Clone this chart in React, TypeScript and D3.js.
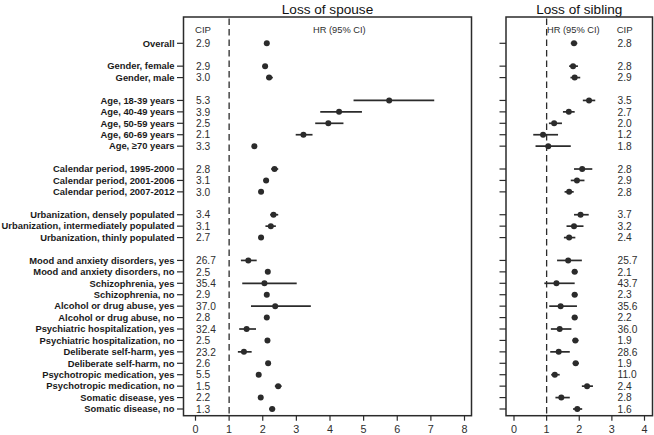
import React from "react";
import * as d3 from "d3";

const labels = [
  "Overall",
  "Gender, female", "Gender, male",
  "Age, 18-39 years", "Age, 40-49 years", "Age, 50-59 years", "Age, 60-69 years", "Age, ≥70 years",
  "Calendar period, 1995-2000", "Calendar period, 2001-2006", "Calendar period, 2007-2012",
  "Urbanization, densely populated", "Urbanization, intermediately populated", "Urbanization, thinly populated",
  "Mood and anxiety disorders, yes", "Mood and anxiety disorders, no",
  "Schizophrenia, yes", "Schizophrenia, no",
  "Alcohol or drug abuse, yes", "Alcohol or drug abuse, no",
  "Psychiatric hospitalization, yes", "Psychiatric hospitalization, no",
  "Deliberate self-harm, yes", "Deliberate self-harm, no",
  "Psychotropic medication, yes", "Psychotropic medication, no",
  "Somatic disease, yes", "Somatic disease, no",
];
const rowIndex = [0, 2, 3, 5, 6, 7, 8, 9, 11, 12, 13, 15, 16, 17, 19, 20, 21, 22, 23, 24, 25, 26, 27, 28, 29, 30, 31, 32];

const spouseCIP = ["2.9", "2.9", "3.0", "5.3", "3.9", "2.5", "2.1", "3.3", "2.8", "3.1", "3.0", "3.4", "3.1", "2.7", "26.7", "2.5", "35.4", "2.9", "37.0", "2.8", "32.4", "2.5", "23.2", "2.6", "5.5", "1.5", "2.2", "1.3"];
const siblingCIP = ["2.8", "2.8", "2.9", "3.5", "2.7", "2.0", "1.2", "1.8", "2.8", "2.9", "2.8", "3.7", "3.2", "2.4", "25.7", "2.1", "43.7", "2.3", "35.6", "2.2", "36.0", "1.9", "28.6", "1.9", "11.0", "2.4", "2.8", "1.6"];

const spouseHR = [2.12, 2.07, 2.19, 5.76, 4.27, 3.95, 3.21, 1.75, 2.35, 2.10, 1.95, 2.32, 2.24, 1.95, 1.57, 2.15, 2.05, 2.12, 2.37, 2.12, 1.52, 2.14, 1.44, 2.16, 1.88, 2.46, 1.94, 2.28];
const spouseLo = [2.06, 2.00, 2.10, 4.70, 3.71, 3.56, 2.98, 1.70, 2.25, 2.02, 1.88, 2.22, 2.08, 1.88, 1.35, 2.09, 1.39, 2.06, 1.65, 2.05, 1.30, 2.08, 1.26, 2.09, 1.82, 2.36, 1.88, 2.19];
const spouseHi = [2.18, 2.14, 2.30, 7.10, 4.95, 4.40, 3.48, 1.80, 2.46, 2.18, 2.02, 2.46, 2.39, 2.02, 1.82, 2.21, 3.01, 2.18, 3.43, 2.19, 1.80, 2.20, 1.67, 2.23, 1.94, 2.56, 2.00, 2.37];

const siblingHR = [1.84, 1.81, 1.86, 2.30, 1.68, 1.23, 0.89, 1.05, 2.09, 1.93, 1.69, 2.04, 1.84, 1.69, 1.66, 1.86, 1.30, 1.86, 1.43, 1.86, 1.40, 1.88, 1.37, 1.89, 1.25, 2.24, 1.45, 1.94];
const siblingLo = [1.74, 1.69, 1.73, 2.11, 1.50, 1.07, 0.59, 0.66, 1.84, 1.74, 1.55, 1.84, 1.61, 1.53, 1.32, 1.77, 0.93, 1.77, 1.08, 1.77, 1.13, 1.79, 1.11, 1.80, 1.14, 2.08, 1.27, 1.81];
const siblingHi = [1.94, 1.96, 2.03, 2.49, 1.86, 1.47, 1.35, 1.74, 2.40, 2.16, 1.83, 2.29, 2.13, 1.88, 2.08, 1.95, 1.86, 1.95, 1.93, 1.95, 1.76, 1.98, 1.71, 1.99, 1.40, 2.42, 1.71, 2.09];

const spouseTicks = [0, 1, 2, 3, 4, 5, 6, 7, 8];
const siblingTicks = [0, 1, 2, 3, 4];

const FONT = "Liberation Sans, Arial, sans-serif";
const INK = "#2b2b2b";
const TEXT = "#2e2e2e";

const y = d3.scaleLinear().domain([0, 32]).range([43.3, 409]);
const frameTop = 17;
const frameBottom = 415.7;

type PanelProps = {
  title: string;
  x: d3.ScaleLinear<number, number>;
  frameL: number;
  frameR: number;
  ticks: number[];
  hr: number[];
  lo: number[];
  hi: number[];
};

function Panel({ title, x, frameL, frameR, ticks, hr, lo, hi }: PanelProps) {
  return (
    <g>
      <text x={(frameL + frameR) / 2} y={13.5} textAnchor="middle" fontSize={13.6} fill="#111" fontFamily={FONT}>
        {title}
      </text>
      <rect x={frameL} y={frameTop} width={frameR - frameL} height={frameBottom - frameTop} fill="none" stroke={INK} strokeWidth={1.5} />
      {rowIndex.map((r, i) => (
        <line key={"rt" + i} x1={frameL - 6.5} x2={frameL} y1={y(r)} y2={y(r)} stroke={INK} strokeWidth={1.2} />
      ))}
      <line x1={x(1)} x2={x(1)} y1={frameTop + 1.5} y2={frameBottom} stroke={INK} strokeWidth={1.3} strokeDasharray="6.5,4" />
      {ticks.map((t) => (
        <g key={"xt" + t}>
          <line x1={x(t)} x2={x(t)} y1={frameBottom} y2={frameBottom + 5} stroke={INK} strokeWidth={1.2} />
          <text x={x(t)} y={433} textAnchor="middle" fontSize={10.8} fill={TEXT} fontFamily={FONT}>
            {t}
          </text>
        </g>
      ))}
      {rowIndex.map((r, i) => (
        <g key={"pt" + i}>
          <line x1={x(lo[i])} x2={x(hi[i])} y1={y(r)} y2={y(r)} stroke={INK} strokeWidth={1.7} />
          <circle cx={x(hr[i])} cy={y(r)} r={3} fill={INK} />
        </g>
      ))}
    </g>
  );
}

export default function App() {
  const xS = d3.scaleLinear().domain([0, 8]).range([195.5, 464.5]);
  const xB = d3.scaleLinear().domain([0, 4]).range([514, 644.5]);
  return (
    <svg width={654} height={435} style={{ position: "absolute", left: 0, top: 0, background: "#fff" }}>
      <rect x={0} y={0} width={654} height={435} fill="#fff" />
      <Panel title="Loss of spouse" x={xS} frameL={183.5} frameR={471.5} ticks={spouseTicks} hr={spouseHR} lo={spouseLo} hi={spouseHi} />
      <Panel title="Loss of sibling" x={xB} frameL={506} frameR={652.5} ticks={siblingTicks} hr={siblingHR} lo={siblingLo} hi={siblingHi} />
      {rowIndex.map((r, i) => (
        <text key={"lb" + i} x={174.5} y={y(r) + 3.3} textAnchor="end" fontSize={9.4} fontWeight="bold" fill="#1a1a1a" fontFamily={FONT}>
          {labels[i]}
        </text>
      ))}
      <text x={195} y={33} fontSize={9.6} fill={TEXT} fontFamily={FONT}>CIP</text>
      <text x={313} y={33} fontSize={9.3} fill={TEXT} fontFamily={FONT}>HR (95% CI)</text>
      <text x={547} y={33} fontSize={9.3} fill={TEXT} fontFamily={FONT}>HR (95% CI)</text>
      <text x={616.7} y={33} fontSize={9.6} fill={TEXT} fontFamily={FONT}>CIP</text>
      {rowIndex.map((r, i) => (
        <text key={"cs" + i} x={196} y={y(r) + 3.7} fontSize={10.2} fill={TEXT} fontFamily={FONT}>
          {spouseCIP[i]}
        </text>
      ))}
      {rowIndex.map((r, i) => (
        <text key={"cb" + i} x={617.5} y={y(r) + 3.7} fontSize={10.2} fill={TEXT} fontFamily={FONT}>
          {siblingCIP[i]}
        </text>
      ))}
    </svg>
  );
}
